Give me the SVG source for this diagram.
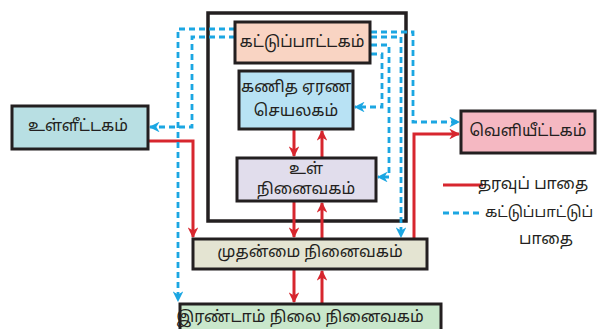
<svg xmlns="http://www.w3.org/2000/svg" width="597" height="329" viewBox="0 0 597 329">
<defs>
<style>
.box{stroke:#231f20;stroke-width:3}
.t{font-family:"Noto Sans Tamil","Lohit Tamil","Noto Sans","DejaVu Sans",sans-serif;font-size:16px;fill:#231f20;text-anchor:middle;dominant-baseline:central}
.data{fill:none;stroke:#d7262e;stroke-width:3}
.ctl{fill:none;stroke:#1ba6e2;stroke-width:2.8;stroke-dasharray:6,4}
</style>
<marker id="ar" viewBox="0 0 10 10" refX="9" refY="5" markerWidth="3.6" markerHeight="3.6" orient="auto" markerUnits="strokeWidth"><path d="M0,0 L10,5 L0,10 L3,5 z" fill="#d7262e"/></marker>
<marker id="ab" viewBox="0 0 10 10" refX="9" refY="5" markerWidth="3.8" markerHeight="3.8" orient="auto" markerUnits="strokeWidth"><path d="M0,0 L10,5 L0,10 L3,5 z" fill="#1ba6e2"/></marker>
</defs>
<rect width="597" height="329" fill="#ffffff"/>
<g id="cpu"><rect x="208" y="13" width="198" height="208" fill="none" stroke="#231f20" stroke-width="3.5"/></g>
<g id="connectors">
<path class="data" d="M148,141 H193 V237" marker-end="url(#ar)"/>
<path class="data" d="M294,130 V156" marker-end="url(#ar)"/>
<path class="data" d="M322,157 V131" marker-end="url(#ar)"/>
<path class="data" d="M294,202 V237" marker-end="url(#ar)"/>
<path class="data" d="M322,238 V203" marker-end="url(#ar)"/>
<path class="data" d="M294,270 V302" marker-end="url(#ar)"/>
<path class="data" d="M322,303 V271" marker-end="url(#ar)"/>
<path class="data" d="M414,238 V134 H459" marker-end="url(#ar)"/>
<path class="ctl" d="M235,29 H178 V301" marker-end="url(#ab)"/>
<path class="ctl" d="M235,37 H192 V127 H150" marker-end="url(#ab)"/>
<path class="ctl" d="M371,32 H413 V122 H459" marker-end="url(#ab)"/>
<path class="ctl" d="M371,37 H401 V237" marker-end="url(#ab)"/>
<path class="ctl" d="M371,45 H389 V177 H378" marker-end="url(#ab)"/>
<path class="ctl" d="M371,54 H382 V107 H355" marker-end="url(#ab)"/>
</g>
<g id="control"><rect class="box" x="235" y="22" width="135" height="41" fill="#f9d4c3"/><text class="t" x="302" y="43">கட்டுப்பாட்டகம்</text></g>
<g id="alu"><rect class="box" x="239" y="71" width="114" height="58" fill="#b8e2f4"/><text class="t" x="296" y="88">கணித ஏரண</text><text class="t" x="296" y="112">செயலகம்</text></g>
<g id="internal"><rect class="box" x="237" y="158" width="139" height="43" fill="#e1ddec"/><text class="t" x="306" y="170">உள்</text><text class="t" x="306" y="190">நினைவகம்</text></g>
<g id="input"><rect class="box" x="12" y="106" width="136" height="43" fill="#b8dfe3"/><text class="t" x="78" y="127">உள்ளீட்டகம்</text></g>
<g id="output"><rect class="box" x="461" y="111" width="134" height="42" fill="#f5b8c2"/><text class="t" x="528" y="132">வெளியீட்டகம்</text></g>
<g id="primary"><rect class="box" x="193" y="239" width="234" height="30" fill="#e4e4d2"/><text class="t" x="310" y="253">முதன்மை நினைவகம்</text></g>
<g id="secondary"><rect class="box" x="180" y="304" width="261" height="30" fill="#c9e7cb"/><text class="t" x="300" y="318">இரண்டாம் நிலை நினைவகம்</text></g>
<g id="legend">
<line class="data" x1="443" y1="185" x2="483" y2="185"/>
<text class="t" x="533" y="185">தரவுப் பாதை</text>
<line class="ctl" x1="443" y1="213" x2="483" y2="213"/>
<text class="t" x="539" y="213" style="font-size:15px">கட்டுப்பாட்டுப்</text>
<text class="t" x="546" y="240">பாதை</text>
</g>
</svg>
